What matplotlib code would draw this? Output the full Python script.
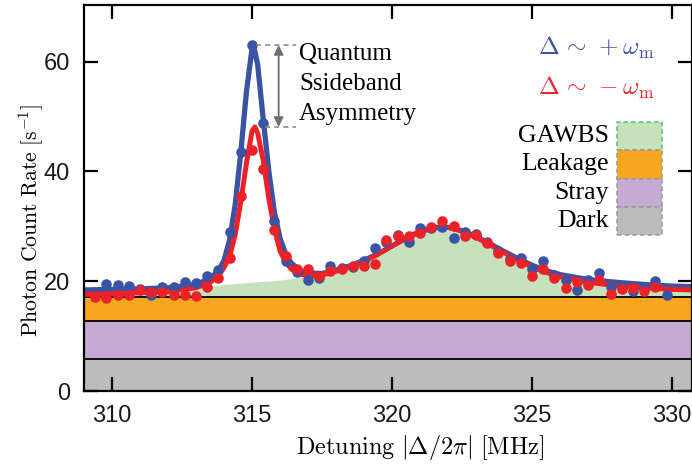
import matplotlib
matplotlib.use("Agg")
import matplotlib.pyplot as plt
from matplotlib.patches import Rectangle

plt.rcParams["mathtext.fontset"] = "cm"

# Measured count rates, blue = Stokes-side (+wm), red = anti-Stokes (-wm)
blue_det = [309.8, 310.2, 310.6, 311.0, 311.4, 311.8, 312.2, 312.6, 313.0, 313.4,
            313.8, 314.2, 314.6, 315.0, 315.4, 315.8, 316.2, 316.6, 317.0, 317.4,
            317.8, 318.2, 318.6, 319.0, 319.4, 319.8, 320.2, 320.6, 321.0, 321.4,
            321.8, 322.2, 322.6, 323.0, 323.4, 323.8, 324.2, 324.6, 325.0, 325.4,
            325.8, 326.2, 326.6, 327.0, 327.4, 327.8, 328.2, 328.6, 329.0, 329.4,
            329.8]
blue_rate = [19.5, 19.3, 19.1, 18.6, 17.4, 18.9, 19.0, 19.8, 19.6, 20.9,
             22.0, 29.0, 43.5, 63.0, 48.8, 31.0, 23.6, 21.6, 20.2, 20.5,
             22.8, 22.4, 22.5, 23.6, 26.0, 27.2, 28.5, 27.2, 29.6, 29.6,
             29.8, 27.8, 29.0, 28.6, 27.2, 25.5, 24.0, 24.2, 22.3, 23.7,
             21.1, 20.3, 18.4, 20.2, 21.5, 19.0, 19.0, 18.2, 18.8, 20.1,
             17.5]

red_det = [309.4, 309.8, 310.2, 310.6, 311.0, 311.4, 311.8, 312.2, 312.6, 313.0,
           313.4, 313.8, 314.2, 314.6, 315.0, 315.4, 315.8, 316.2, 316.6, 317.0,
           317.4, 317.8, 318.2, 318.6, 319.0, 319.4, 319.8, 320.2, 320.6, 321.0,
           321.4, 321.8, 322.2, 322.6, 323.0, 323.4, 323.8, 324.2, 324.6, 325.0,
           325.4, 325.8, 326.2, 326.6, 327.0, 327.4, 327.8, 328.2, 328.6, 329.0,
           329.4]
red_rate = [17.2, 17.0, 17.4, 17.4, 18.4, 18.0, 18.1, 17.5, 17.4, 17.3,
            19.0, 20.5, 24.2, 35.6, 43.9, 40.4, 29.3, 24.6, 22.2, 22.3,
            20.9, 21.9, 22.2, 22.7, 22.8, 23.1, 27.5, 28.2, 28.2, 28.7,
            29.9, 31.0, 30.1, 28.2, 28.4, 26.9, 25.2, 23.7, 23.3, 20.9,
            22.2, 20.5, 18.7, 19.9, 19.3, 20.2, 17.7, 18.5, 18.7, 18.3,
            18.9]

# Fitted model curves
blue_fit_det = [309.0, 310.0, 311.0, 312.0, 313.0, 313.5, 313.8, 314.0, 314.2, 314.4,
                314.6, 314.8, 315.0, 315.05, 315.2, 315.4, 315.6, 315.8, 316.0, 316.2,
                316.4, 316.7, 317.0, 317.5, 318.0, 318.5, 319.0, 319.5, 320.0, 320.5,
                321.0, 321.5, 322.0, 322.5, 323.0, 323.5, 324.0, 324.5, 325.0, 325.5,
                326.0, 327.0, 328.0, 329.0, 330.0, 330.8]
blue_fit = [18.4, 18.5, 18.6, 18.8, 19.4, 20.5, 21.9, 23.8, 27.5, 34.0,
            43.5, 54.5, 62.3, 63.0, 59.5, 49.5, 40.0, 32.5, 27.8, 25.0,
            23.3, 22.0, 21.5, 21.4, 22.0, 22.8, 23.8, 25.0, 26.4, 27.8,
            29.0, 29.7, 29.8, 29.2, 28.1, 26.8, 25.4, 24.1, 22.9, 21.9,
            21.2, 20.3, 19.8, 19.4, 19.1, 19.0]

red_fit_det = [309.0, 310.0, 311.0, 312.0, 313.0, 313.5, 313.8, 314.0, 314.2, 314.4,
               314.6, 314.8, 315.0, 315.1, 315.2, 315.4, 315.6, 315.8, 316.0, 316.2,
               316.4, 316.7, 317.0, 317.5, 318.0, 318.5, 319.0, 319.5, 320.0, 320.5,
               321.0, 321.5, 322.0, 322.5, 323.0, 323.5, 324.0, 324.5, 325.0, 325.5,
               326.0, 327.0, 328.0, 329.0, 330.0, 330.8]
red_fit = [17.6, 17.7, 17.9, 18.1, 18.8, 19.8, 21.0, 22.5, 24.5, 28.5,
           34.5, 41.5, 47.3, 48.1, 47.0, 42.0, 35.0, 29.5, 25.5, 23.5,
           22.2, 21.3, 21.0, 21.1, 21.8, 22.6, 23.6, 24.9, 26.4, 27.9,
           29.1, 29.8, 29.8, 29.1, 28.0, 26.6, 25.2, 23.9, 22.6, 21.6,
           20.8, 19.8, 19.2, 18.8, 18.5, 18.4]

# Background contributions (stacked levels)
dark_level = 5.8
stray_level = 12.8
leak_level = 17.1
gawbs_det = [309.0, 310.0, 311.0, 312.0, 313.0, 314.0, 315.0, 316.0, 317.0, 318.0,
             319.0, 319.5, 320.0, 320.5, 321.0, 321.5, 322.0, 322.5, 323.0, 323.5,
             324.0, 324.5, 325.0, 325.5, 326.0, 327.0, 328.0, 329.0, 330.0, 330.8]
gawbs_top = [17.5, 17.7, 18.0, 18.3, 18.8, 19.4, 19.8, 20.2, 20.9, 21.9,
             23.3, 24.5, 25.9, 27.3, 28.5, 29.2, 29.3, 28.7, 27.6, 26.2,
             24.9, 23.6, 22.5, 21.6, 20.9, 19.9, 19.2, 18.8, 18.5, 18.3]

BLUE = "#3a53a4"
RED = "#ed2228"
GREEN = "#c6e2bc"
ORANGE = "#f7a71f"
PURPLE = "#c5aad3"
GREY = "#bcbcbc"

fig = plt.figure(figsize=(6.92, 4.69), dpi=100)
ax = fig.add_axes([84 / 692, 1 - 391 / 469, 1 - 84 / 692, 386 / 469])
ax.set_xlim(309.0, 330.71)
ax.set_ylim(0, 70.3)

# stacked background bands
ax.axhspan(0, dark_level, color=GREY, lw=0, zorder=1)
ax.axhspan(dark_level, stray_level, color=PURPLE, lw=0, zorder=1)
ax.axhspan(stray_level, leak_level, color=ORANGE, lw=0, zorder=1)
ax.fill_between(gawbs_det, leak_level, gawbs_top, color=GREEN, lw=0, zorder=1)
for lvl in (dark_level, stray_level, leak_level):
    ax.axhline(lvl, color="black", lw=1.3, zorder=2)

ax.plot(blue_fit_det, blue_fit, color=BLUE, lw=3.8, zorder=3, solid_capstyle="butt")
ax.plot(red_fit_det, red_fit, color=RED, lw=3.6, zorder=4, solid_capstyle="butt")
ax.plot(blue_det, blue_rate, "o", color=BLUE, ms=7.6, mew=0, zorder=5)
ax.plot(red_det, red_rate, "o", color=RED, ms=7.6, mew=0, zorder=6)

# sideband asymmetry marker
top = max(blue_fit)
low = max(red_fit)
ax.plot([315.15, 316.58], [top, top], ls=(0, (3, 2.5)), color="#8a8a8a", lw=1.2, zorder=7)
ax.plot([315.45, 316.58], [low, low], ls=(0, (3, 2.5)), color="#8a8a8a", lw=1.2, zorder=7)
ax.annotate("", xy=(315.95, low), xytext=(315.95, top),
            arrowprops=dict(arrowstyle="<|-|>", color="#6e6e6e", lw=1.3,
                            mutation_scale=14, shrinkA=0, shrinkB=0), zorder=7)
ax.text(316.68, 55.9, "Quantum\nSsideband\nAsymmetry", family="Liberation Serif",
        fontsize=18, va="center", ha="left", linespacing=1.45, zorder=7)

ax.text(0.842, 0.889, r"$\Delta\,\sim\,+\omega_{\rm m}$", color=BLUE, fontsize=18,
        transform=ax.transAxes, ha="center", va="center")
ax.text(0.842, 0.786, r"$\Delta\,\sim\,-\omega_{\rm m}$", color=RED, fontsize=18,
        transform=ax.transAxes, ha="center", va="center")

# key for the background components
key = [("GAWBS", GREEN, "#55c07a"), ("Leakage", ORANGE, "#9a9a9a"),
       ("Stray", PURPLE, "#9a9a9a"), ("Dark", GREY, "#9a9a9a")]
y0 = 0.697
h = 0.0733
for i, (name, face, edge) in enumerate(key):
    yb = y0 - (i + 1) * h
    ax.add_patch(Rectangle((0.877, yb), 0.074, h, transform=ax.transAxes, facecolor=face,
                           edgecolor=edge, ls=(0, (3, 2)), lw=1.1, zorder=8))
    ax.text(0.8635, yb + h / 2, name, transform=ax.transAxes, ha="right", va="center",
            family="Liberation Serif", fontsize=18.5, zorder=8)

ax.set_xticks([310, 315, 320, 325, 330])
ax.set_yticks([0, 20, 40, 60])
ax.tick_params(direction="in", length=10, width=1.6, top=True, right=True,
               labelsize=17, pad=10)
for lab in ax.get_xticklabels() + ax.get_yticklabels():
    lab.set_family("Liberation Sans")
    lab.set_color("#1a1a1a")
for sp in ax.spines.values():
    sp.set_linewidth(1.6)
    sp.set_zorder(9)

ax.set_xlabel(r"$\mathrm{Detuning}\ |\Delta/2\pi|\ \mathrm{[MHz]}$", fontsize=17.5)
ax.set_ylabel(r"$\mathrm{Photon\ Count\ Rate\ [s^{-1}]}$", fontsize=15.6)
ax.xaxis.set_label_coords(0.553, -0.11)
ax.yaxis.set_label_coords(-0.063, 0.443)

fig.savefig("out.png", dpi=100)
